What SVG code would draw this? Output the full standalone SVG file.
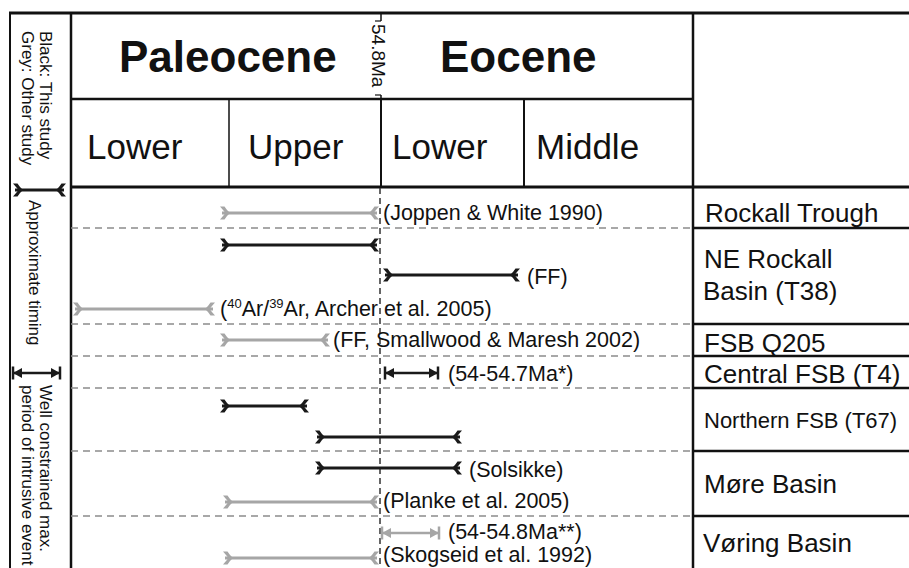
<svg xmlns="http://www.w3.org/2000/svg" width="909" height="568" viewBox="0 0 909 568">
<style>
text{font-family:"Liberation Sans",Arial,sans-serif;fill:#111}
.hb{font-size:44px;font-weight:bold}
.hs{font-size:35px}
.rl{font-size:26px}
.lab{font-size:21.5px}
.lg{font-size:17px}
.fr{stroke:#111;fill:none}
.dash{stroke:#8c8c8c;stroke-width:1.5;stroke-dasharray:7 5;fill:none}
.bk{stroke:#1a1a1a;stroke-width:3;fill:none;marker-start:url(#tB);marker-end:url(#hB)}
.gr{stroke:#a6a6a6;stroke-width:3;fill:none;marker-start:url(#tG);marker-end:url(#hG)}
.ak{stroke:#1a1a1a;stroke-width:2.5;fill:none;marker-start:url(#aB);marker-end:url(#aB)}
.ag{stroke:#a6a6a6;stroke-width:2.5;fill:none;marker-start:url(#aG);marker-end:url(#aG)}
</style>
<defs>
<path id="chevR" d="M-2,-6.5 Q1.5,-2.5 3.5,0 Q1.5,2.5 -2,6.5 L2.5,6.5 Q5,2.5 8,0 Q5,-2.5 2.5,-6.5Z"/>
<path id="chevL" d="M2,-6.5 Q-1.5,-2.5 -3.5,0 Q-1.5,2.5 2,6.5 L-2.5,6.5 Q-5,2.5 -8,0 Q-5,-2.5 -2.5,-6.5Z"/>
<marker id="tB" markerUnits="userSpaceOnUse" viewBox="-10 -10 20 20" markerWidth="20" markerHeight="20" refX="0" refY="0" orient="auto" overflow="visible"><use href="#chevR" fill="#1a1a1a"/></marker>
<marker id="hB" markerUnits="userSpaceOnUse" viewBox="-10 -10 20 20" markerWidth="20" markerHeight="20" refX="0" refY="0" orient="auto" overflow="visible"><use href="#chevL" fill="#1a1a1a"/></marker>
<marker id="tG" markerUnits="userSpaceOnUse" viewBox="-10 -10 20 20" markerWidth="20" markerHeight="20" refX="0" refY="0" orient="auto" overflow="visible"><use href="#chevR" fill="#a6a6a6"/></marker>
<marker id="hG" markerUnits="userSpaceOnUse" viewBox="-10 -10 20 20" markerWidth="20" markerHeight="20" refX="0" refY="0" orient="auto" overflow="visible"><use href="#chevL" fill="#a6a6a6"/></marker>
<marker id="aB" markerUnits="userSpaceOnUse" viewBox="-12 -8 16 16" markerWidth="16" markerHeight="16" refX="0" refY="0" orient="auto-start-reverse" overflow="visible"><path d="M0,0 L-9,-5 L-9,5Z" fill="#1a1a1a"/><path d="M0,-6.5 V6.5" stroke="#1a1a1a" stroke-width="2.5"/></marker>
<marker id="aG" markerUnits="userSpaceOnUse" viewBox="-12 -8 16 16" markerWidth="16" markerHeight="16" refX="0" refY="0" orient="auto-start-reverse" overflow="visible"><path d="M0,0 L-9,-5 L-9,5Z" fill="#a6a6a6"/><path d="M0,-6.5 V6.5" stroke="#a6a6a6" stroke-width="2.5"/></marker>
</defs>
<rect width="909" height="568" fill="#fff"/>

<g id="frame">
<line class="fr" x1="9" y1="13" x2="909" y2="13" stroke-width="3"/>
<line class="fr" x1="10" y1="12" x2="10" y2="568" stroke-width="2"/>
<line class="fr" x1="71" y1="12" x2="71" y2="568" stroke-width="2.5"/>
<line class="fr" x1="693" y1="12" x2="693" y2="568" stroke-width="2.5"/>
<line class="fr" x1="71" y1="99" x2="693" y2="99" stroke-width="2.5"/>
<line class="fr" x1="71" y1="187" x2="909" y2="187" stroke-width="3"/>
<line class="fr" x1="229" y1="99" x2="229" y2="187" stroke-width="1.5"/>
<line class="fr" x1="524" y1="99" x2="524" y2="187" stroke-width="2"/>
<line class="fr" x1="381" y1="99" x2="381" y2="187" stroke-width="2"/>
<line class="fr" x1="381" y1="13" x2="381" y2="21" stroke-width="1.5"/>
<line class="fr" x1="381" y1="95" x2="381" y2="99" stroke-width="1.5"/>
<line class="fr" x1="375" y1="21" x2="381" y2="21" stroke-width="1.2"/>
<line class="fr" x1="375" y1="95" x2="381" y2="95" stroke-width="1.2"/>
<g stroke-width="2.5" class="fr">
<line x1="693" y1="228" x2="909" y2="228"/>
<line x1="693" y1="324" x2="909" y2="324"/>
<line x1="693" y1="356" x2="909" y2="356"/>
<line x1="693" y1="388" x2="909" y2="388"/>
<line x1="693" y1="451" x2="909" y2="451"/>
<line x1="693" y1="516" x2="909" y2="516"/>
</g>
<g class="dash">
<line x1="71" y1="228" x2="693" y2="228"/>
<line x1="71" y1="324" x2="693" y2="324"/>
<line x1="71" y1="356" x2="693" y2="356"/>
<line x1="71" y1="388" x2="693" y2="388"/>
<line x1="71" y1="451" x2="693" y2="451"/>
<line x1="71" y1="516" x2="693" y2="516"/>
</g>
<line x1="380" y1="188" x2="380" y2="568" stroke="#333" stroke-width="1.5" stroke-dasharray="6 4"/>
</g>

<g id="header">
<text class="hb" x="119" y="72">Paleocene</text>
<text class="hb" x="440" y="72">Eocene</text>
<text class="hs" x="87" y="159">Lower</text>
<text class="hs" x="248" y="159">Upper</text>
<text class="hs" x="392" y="159">Lower</text>
<text class="hs" x="536" y="159">Middle</text>
<text transform="translate(372,24) rotate(90)" style="font-size:19px">54.8Ma</text>
</g>

<g id="legend">
<text class="lg" transform="translate(40,31) rotate(90)">Black: This study</text>
<text class="lg" transform="translate(22,31) rotate(90)">Grey: Other study</text>
<line class="bk" x1="15" y1="190" x2="64" y2="190"/>
<text class="lg" transform="translate(29,200) rotate(90)">Approximate timing</text>
<line class="ak" x1="13" y1="373" x2="60" y2="373"/>
<text class="lg" transform="translate(40,385) rotate(90)">Well constrained max.</text>
<text class="lg" transform="translate(22,385) rotate(90)">period of intrusive event</text>
</g>

<g id="row-rockall-trough">
<text class="rl" x="705" y="222">Rockall Trough</text>
<line class="gr" x1="222" y1="213" x2="377" y2="213"/>
<text class="lab" x="383" y="220">(Joppen &amp; White 1990)</text>
</g>

<g id="row-ne-rockall">
<text class="rl" x="704" y="268">NE Rockall</text>
<text class="rl" x="703" y="300">Basin (T38)</text>
<line class="bk" x1="222" y1="245" x2="377" y2="245"/>
<line class="bk" x1="385" y1="275" x2="518" y2="275"/>
<text class="lab" x="527" y="284">(FF)</text>
<line class="gr" x1="75" y1="309" x2="213" y2="309"/>
<text class="lab" x="220" y="316">(<tspan font-size="13" dy="-8">40</tspan><tspan dy="8">Ar/</tspan><tspan font-size="13" dy="-8">39</tspan><tspan dy="8">Ar, Archer et al. 2005)</tspan></text>
</g>

<g id="row-fsb-q205">
<text class="rl" x="704" y="352">FSB Q205</text>
<line class="gr" x1="222" y1="340" x2="328" y2="340"/>
<text class="lab" x="333" y="347">(FF, Smallwood &amp; Maresh 2002)</text>
</g>

<g id="row-central-fsb">
<text class="rl" x="704" y="383">Central FSB (T4)</text>
<line class="ak" x1="385" y1="373" x2="438" y2="373"/>
<text class="lab" x="448" y="381">(54-54.7Ma*)</text>
</g>

<g id="row-northern-fsb">
<text x="704" y="428" style="font-size:22px">Northern FSB (T67)</text>
<line class="bk" x1="222" y1="406" x2="307" y2="406"/>
<line class="bk" x1="317" y1="437" x2="460" y2="437"/>
</g>

<g id="row-more-basin">
<text class="rl" x="704" y="493">Møre Basin</text>
<line class="bk" x1="317" y1="468" x2="460" y2="468"/>
<text class="lab" x="469" y="477">(Solsikke)</text>
<line class="gr" x1="225" y1="502" x2="377" y2="502"/>
<text class="lab" x="383" y="508">(Planke et al. 2005)</text>
</g>

<g id="row-voring-basin">
<text class="rl" x="703" y="552">Vøring Basin</text>
<line class="ag" x1="382" y1="533" x2="439" y2="533"/>
<text class="lab" x="448" y="539">(54-54.8Ma**)</text>
<line class="gr" x1="225" y1="558" x2="377" y2="558"/>
<text class="lab" x="383" y="562">(Skogseid et al. 1992)</text>
</g>
</svg>
